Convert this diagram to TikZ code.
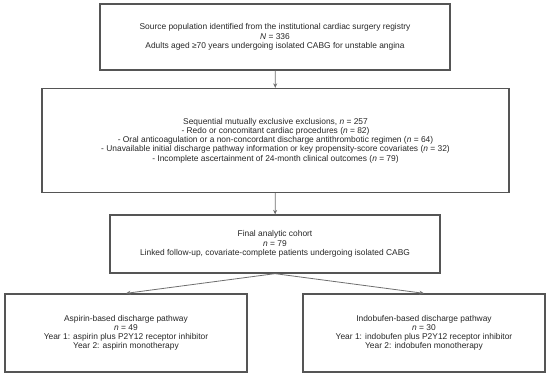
\documentclass[tikz,border=0pt]{standalone}
\usepackage{fontspec}
\setmainfont{Liberation Sans}
\usetikzlibrary{arrows.meta}

\definecolor{boxline}{HTML}{555555}
\definecolor{arrowline}{HTML}{6E6E6E}

\tikzset{
    flowbox/.style={draw=boxline, line width=1.3pt, align=center, inner sep=0pt,
        font=\fontsize{8.4}{9.2}\selectfont, text=black!85},
    flowarrow/.style={draw=arrowline, line width=0.8pt, -{Stealth[length=4.5pt, width=4pt]}}
}

\begin{document}
\begin{tikzpicture}[x=1pt, y=-1pt]

    \useasboundingbox (0, 0) rectangle (550, 377);

    % Source population
    \node[flowbox, minimum width=350pt, minimum height=66pt] (source) at (275, 37)
        {Source population identified from the institutional cardiac surgery registry\\
         \textit{N} = 336\\
         Adults aged ≥70 years undergoing isolated CABG for unstable angina};

    % Exclusions
    \node[flowbox, minimum width=467pt, minimum height=104pt] (excl) at (275.5, 140.5)
        {Sequential mutually exclusive exclusions, \textit{n} = 257\\
         - Redo or concomitant cardiac procedures (\textit{n} = 82)\\
         - Oral anticoagulation or a non-concordant discharge antithrombotic regimen (\textit{n} = 64)\\
         - Unavailable initial discharge pathway information or key propensity-score covariates (\textit{n} = 32)\\
         - Incomplete ascertainment of 24-month clinical outcomes (\textit{n} = 79)};

    % Final cohort
    \node[flowbox, minimum width=330pt, minimum height=58pt] (cohort) at (275, 244)
        {Final analytic cohort\\
         \textit{n} = 79\\
         Linked follow-up, covariate-complete patients undergoing isolated CABG};

    % Two discharge pathways
    \node[flowbox, minimum width=242pt, minimum height=78pt] (aspirin) at (126, 333)
        {Aspirin-based discharge pathway\\
         \textit{n} = 49\\
         Year 1: aspirin plus P2Y12 receptor inhibitor\\
         Year 2: aspirin monotherapy};

    \node[flowbox, minimum width=242pt, minimum height=78pt] (indo) at (424, 333)
        {Indobufen-based discharge pathway\\
         \textit{n} = 30\\
         Year 1: indobufen plus P2Y12 receptor inhibitor\\
         Year 2: indobufen monotherapy};

    % Arrows
    \draw[flowarrow] (source) -- (excl);
    \draw[flowarrow] (excl) -- (cohort);
    \draw[flowarrow] (cohort.south) -- (aspirin.north);
    \draw[flowarrow] (cohort.south) -- (indo.north);

\end{tikzpicture}
\end{document}
